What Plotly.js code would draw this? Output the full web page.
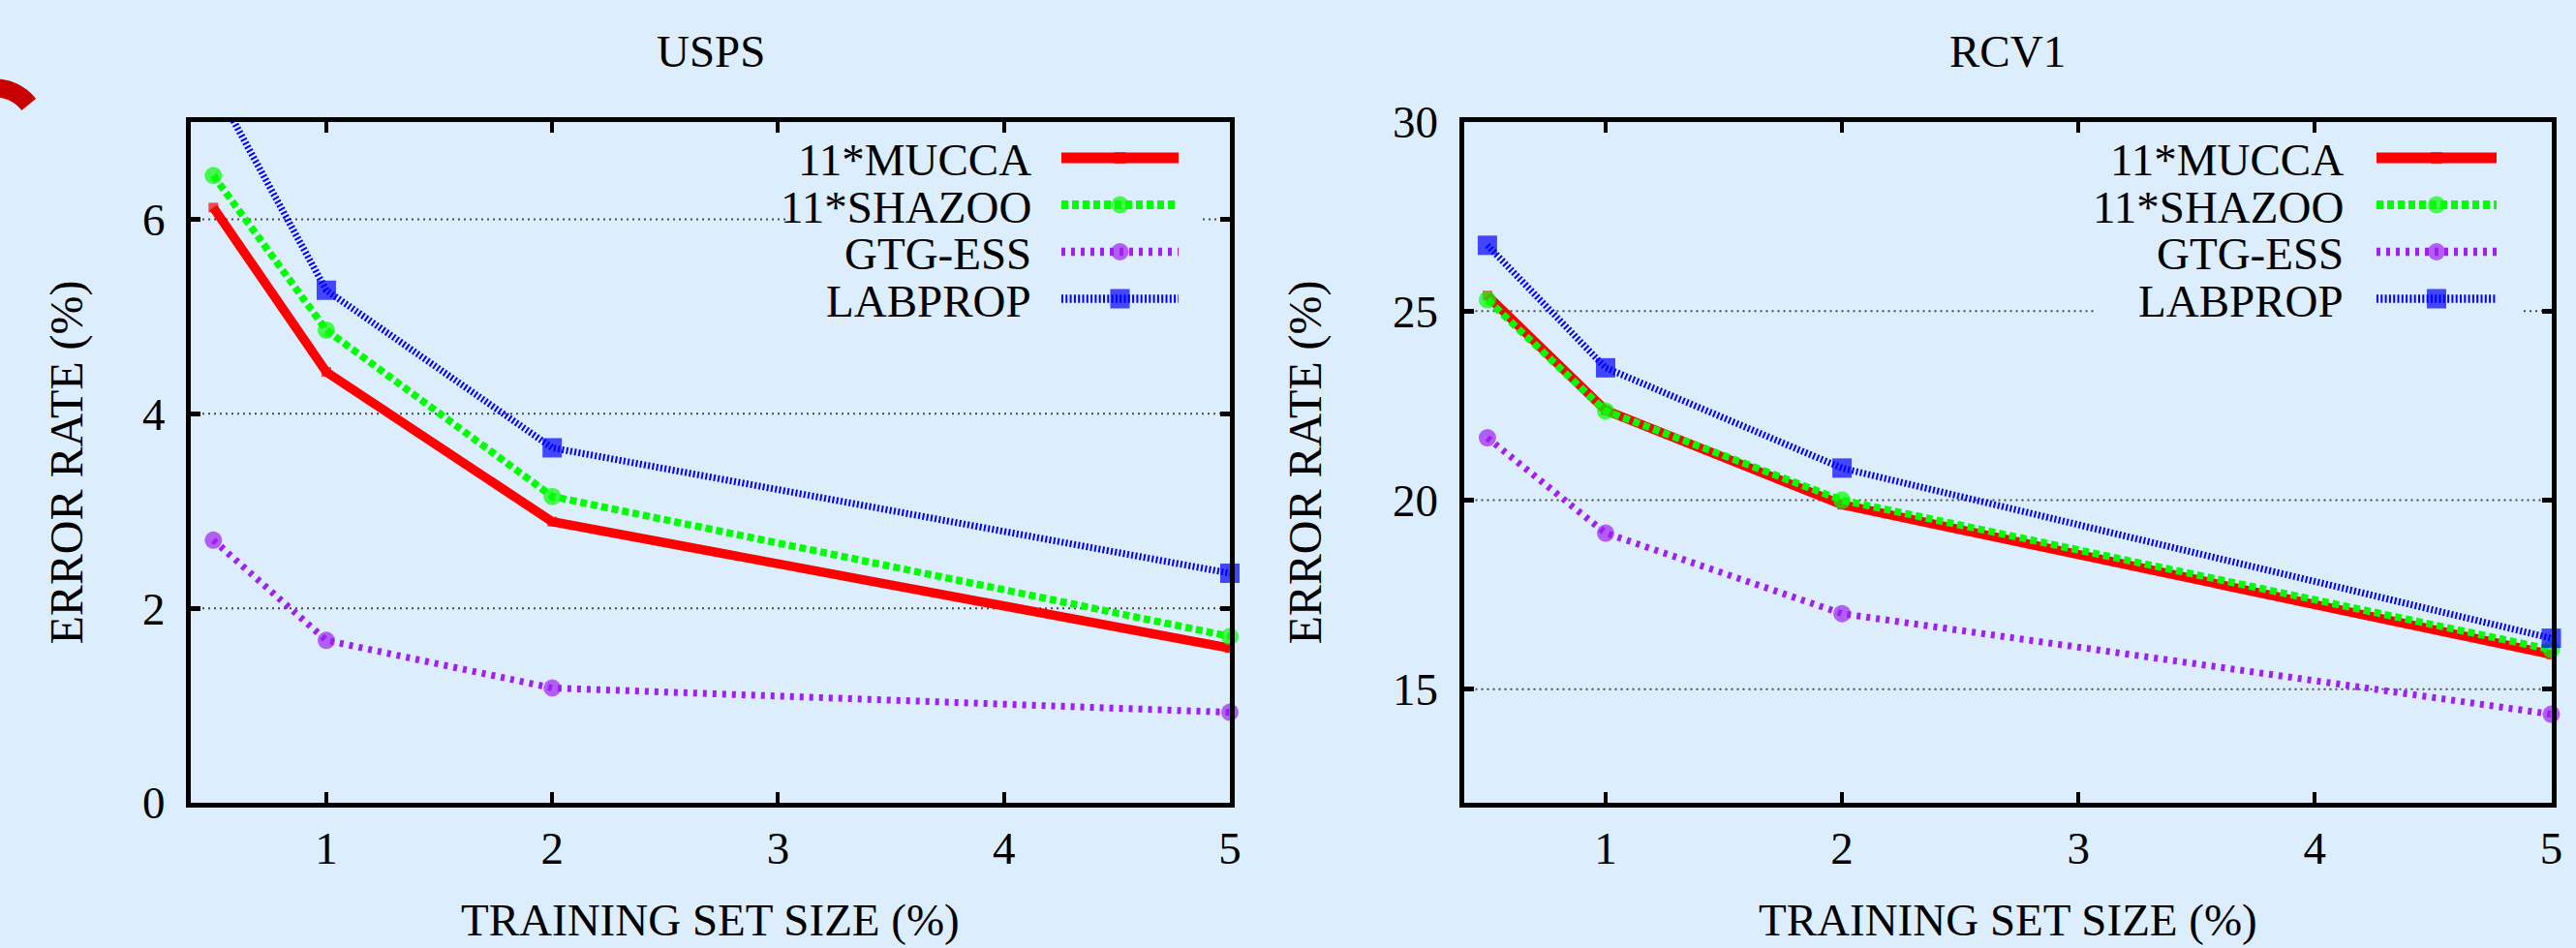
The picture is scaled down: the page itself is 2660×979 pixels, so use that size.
<!DOCTYPE html>
<html>
<head>
<meta charset="utf-8">
<script src="https://cdn.plot.ly/plotly-3.0.1.min.js"></script>
<style>
html,body{margin:0;padding:0;background:#dcedfd;}
#chart{width:2660px;height:979px;}
</style>
</head>
<body>
<div id="chart"></div>
<script>
// ---------------- data ----------------
const panelTitles = ["USPS", "RCV1"];
const seriesNames = ["11*MUCCA", "11*SHAZOO", "GTG-ESS", "LABPROP"];
const trainingSize = [0.5, 1, 2, 5];
const xTicks = [1, 2, 3, 4, 5];

const muccaUSPS   = [6.12, 4.43, 2.89, 1.59];
const shazooUSPS  = [6.45, 4.86, 3.15, 1.71];
const gtgUSPS     = [2.70, 1.67, 1.18, 0.93];
const labpropUSPS = [7.39, 5.27, 3.65, 2.36];

const muccaRCV1   = [25.41, 22.38, 19.88, 15.92];
const shazooRCV1  = [25.30, 22.36, 20.00, 16.05];
const gtgRCV1     = [21.65, 19.13, 17.00, 14.34];
const labpropRCV1 = [26.74, 23.50, 20.85, 16.35];

const yTicksUSPS = [0, 2, 4, 6];
const yTicksRCV1 = [15, 20, 25, 30];

const xTitle = "TRAINING SET SIZE (%)";
const yTitle = "ERROR RATE (%)";

// ---------------- styling ----------------
const W = 2660, H = 979;
const BG = "#dcedfd";
const FONT = "Liberation Serif";
const FS = 47;
const px = v => v / W;
const py = v => 1 - v / H;

const styles = [
  {color: "#ff0000", width: 9.5, dash: "solid",     symbol: "square", size: 10},
  {color: "#00ff00", width: 7.5, dash: "7px,4px",   symbol: "circle", size: 18},
  {color: "#a020f0", width: 7,   dash: "4px,6px",   symbol: "circle", size: 18},
  {color: "#0000ff", width: 7,   dash: "2px,2.3px", symbol: "square", size: 20}
];

const frameTop = 126, frameBottom = 829;
const panels = [
  {xa: "x",  ya: "y",  left: 197,    right: 1270,   yRange: [0, 7],   yTicks: yTicksUSPS,
   data: [muccaUSPS, shazooUSPS, gtgUSPS, labpropUSPS],
   legTextRight: 1067, legStart: 1096, legEnd: 1217, boxL: 814, boxR: 1242,
   yTitleX: 68},
  {xa: "x2", ya: "y2", left: 1511.5, right: 2634.5, yRange: [12, 30], yTicks: yTicksRCV1,
   data: [muccaRCV1, shazooRCV1, gtgRCV1, labpropRCV1],
   legTextRight: 2422, legStart: 2454, legEnd: 2578, boxL: 2165, boxR: 2606,
   yTitleX: 1347}
];
const legendRows = [163, 211.5, 260, 308.5];
const boxTop = 138, boxBottom = 334;

const traces = [];
const shapes = [];
const annotations = [];
const layout = {
  width: W, height: H,
  margin: {l: 0, r: 0, t: 0, b: 0},
  paper_bgcolor: BG,
  plot_bgcolor: "rgba(0,0,0,0)",
  showlegend: false,
  font: {family: FONT, size: FS, color: "#000"}
};

panels.forEach((p, pi) => {
  const xKey = pi === 0 ? "xaxis" : "xaxis2";
  const yKey = pi === 0 ? "yaxis" : "yaxis2";
  layout[xKey] = {
    domain: [px(p.left), px(p.right)],
    anchor: p.ya,
    range: [0.4, 5],
    tickmode: "array", tickvals: xTicks, ticktext: xTicks.map(String),
    ticks: "inside", ticklen: 11, tickwidth: 4, tickcolor: "#000",
    showline: true, linecolor: "#000", linewidth: 5, mirror: "ticks",
    showgrid: false, zeroline: false,
    ticklabelstandoff: 2,
    tickfont: {family: FONT, size: FS, color: "#000"},
    fixedrange: true
  };
  layout[yKey] = {
    domain: [py(frameBottom), py(frameTop)],
    anchor: p.xa,
    range: p.yRange,
    tickmode: "array", tickvals: p.yTicks, ticktext: p.yTicks.map(String),
    ticks: "inside", ticklen: 10, tickwidth: 5, tickcolor: "#000",
    showline: true, linecolor: "#000", linewidth: 5, mirror: "ticks",
    showgrid: false, zeroline: false,
    ticklabelstandoff: 12,
    tickfont: {family: FONT, size: FS, color: "#000"},
    fixedrange: true
  };

  // dotted horizontal grid lines, interrupted by the opaque key box
  const w = p.right - p.left, h = frameBottom - frameTop;
  const [r0, r1] = p.yRange;
  p.yTicks.forEach(t => {
    if (t <= r0 || t >= r1) return;
    const ypix = frameBottom - (t - r0) / (r1 - r0) * h;
    const segs = (ypix > boxTop && ypix < boxBottom)
      ? [[0, (p.boxL - p.left) / w], [(p.boxR - p.left) / w, 1]]
      : [[0, 1]];
    segs.forEach(s => shapes.push({
      type: "line", layer: "below",
      xref: p.xa + " domain", yref: p.ya,
      x0: s[0], x1: s[1], y0: t, y1: t,
      line: {color: "#4a4a4a", width: 2, dash: "2px,4px"}
    }));
  });

  // data series
  p.data.forEach((vals, si) => {
    const st = styles[si];
    traces.push({
      type: "scatter", mode: "lines+markers",
      x: trainingSize, y: vals,
      xaxis: p.xa, yaxis: p.ya,
      name: seriesNames[si],
      cliponaxis: false,
      line: {color: st.color, width: st.width, dash: st.dash},
      marker: {
        color: st.color, symbol: st.symbol,
        size: vals.map(v => (v <= r1 ? st.size : 0)),
        line: {width: 0}
      },
      hoverinfo: "skip"
    });
  });

  // key entries
  seriesNames.forEach((nm, si) => {
    const st = styles[si];
    const ry = legendRows[si];
    annotations.push({
      xref: "paper", yref: "paper",
      x: px(p.legTextRight), y: py(ry + 2),
      xanchor: "right", yanchor: "middle",
      text: nm, showarrow: false,
      font: {family: FONT, size: FS, color: "#000"}
    });
    const mid = (p.legStart + p.legEnd) / 2;
    traces.push({
      type: "scatter", mode: "lines+markers",
      x: [p.legStart, mid, p.legEnd], y: [ry, ry, ry],
      xaxis: "x3", yaxis: "y3",
      cliponaxis: false,
      line: {color: st.color, width: st.width + 1.5, dash: st.dash},
      marker: {color: st.color, symbol: st.symbol, size: [0, si === 0 ? 12 : st.size, 0], line: {width: 0}},
      hoverinfo: "skip"
    });
  });

  // titles
  const cx = (p.left + p.right) / 2;
  annotations.push({
    xref: "paper", yref: "paper", x: px(cx), y: py(53),
    xanchor: "center", yanchor: "middle", showarrow: false,
    text: panelTitles[pi], font: {family: FONT, size: FS, color: "#000"}
  });
  annotations.push({
    xref: "paper", yref: "paper", x: px(cx), y: py(950),
    xanchor: "center", yanchor: "middle", showarrow: false,
    text: xTitle, font: {family: FONT, size: FS, color: "#000"}
  });
  annotations.push({
    xref: "paper", yref: "paper", x: px(p.yTitleX), y: py((frameTop + frameBottom) / 2),
    xanchor: "center", yanchor: "middle", showarrow: false, textangle: -90,
    text: yTitle, font: {family: FONT, size: 48, color: "#000"}
  });
});

// pixel-space overlay axes used for the key samples
layout.xaxis3 = {domain: [0, 1], anchor: "y3", range: [0, W], visible: false, fixedrange: true};
layout.yaxis3 = {domain: [0, 1], anchor: "x3", range: [H, 0], visible: false, fixedrange: true};

// decorative red arc fragment at the top-left corner
(function () {
  const cxA = -5, cyA = 135, r = 44;
  let d = "";
  for (let a = -160; a <= -38; a += 2) {
    const t = a * Math.PI / 180;
    const X = cxA + r * Math.cos(t), Y = cyA + r * Math.sin(t);
    d += (d ? " L" : "M") + px(X).toFixed(6) + "," + py(Y).toFixed(6);
  }
  shapes.push({type: "path", xref: "paper", yref: "paper", path: d,
    line: {color: "#c80000", width: 19}, layer: "above"});
})();

layout.shapes = shapes;
layout.annotations = annotations;

Plotly.newPlot("chart", traces, layout, {staticPlot: true, displayModeBar: false});
</script>
</body>
</html>
